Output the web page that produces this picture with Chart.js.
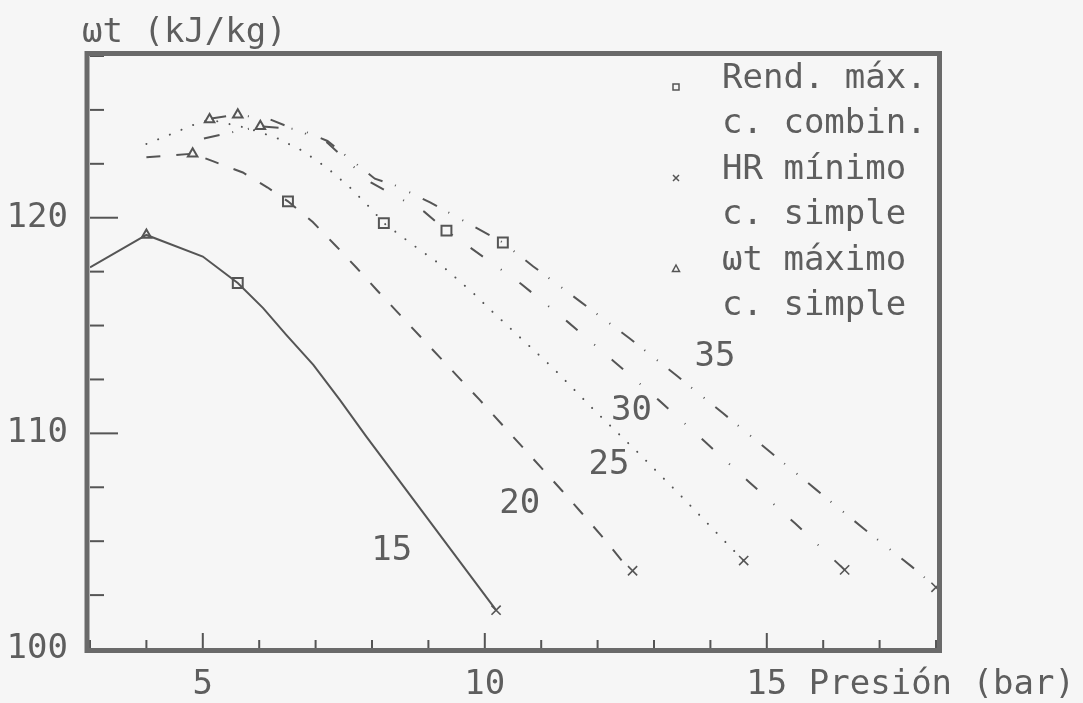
<!DOCTYPE html>
<html><head><meta charset="utf-8">
<script src="https://cdn.jsdelivr.net/npm/chart.js@4.4.1/dist/chart.umd.min.js"></script>
<style>html,body{margin:0;padding:0;background:#f6f6f6;}#wrap{width:1083px;height:703px;}</style>
</head><body><div id="wrap"><canvas id="c" width="1083" height="703"></canvas></div>
<script>
// ---- data (pressure in bar, specific work in kJ/kg) ----
const p15 = [3.0, 4.0, 5.0, 5.62, 6.07, 6.48, 6.96, 7.43, 7.9, 10.2];
const wt15 = [117.7, 119.2, 118.2, 116.97, 115.81, 114.57, 113.18, 111.55, 109.85, 101.8];

const p20 = [4.0, 4.82, 5.2, 5.71, 6.15, 6.51, 6.95, 7.34, 7.73, 8.08, 8.43, 9.91, 11.37, 11.71, 12.07, 12.43, 12.62];
const wt20 = [122.8, 122.97, 122.6, 122.1, 121.4, 120.76, 119.8, 118.75, 117.67, 116.66, 115.68, 111.55, 107.34, 106.33, 105.25, 104.1, 103.63];

const p25 = [4.0, 4.52, 4.76, 5.12, 5.8, 6.31, 6.77, 7.21, 7.61, 7.99, 8.21, 8.8, 9.23, 9.84, 10.03, 10.62, 11.21, 11.97, 12.74, 13.49, 14.23, 14.59];
const wt25 = [123.42, 123.96, 124.24, 124.55, 124.15, 123.7, 123.1, 122.3, 121.4, 120.4, 119.75, 118.6, 117.8, 116.4, 115.9, 114.46, 113.03, 111.0, 109.05, 107.07, 105.06, 104.1];

const p30 = [5.15, 5.62, 6.2, 7.2, 7.98, 8.93, 9.32, 10.64, 11.47, 12.28, 13.09, 13.9, 14.68, 15.5, 16.38];
const wt30 = [124.6, 124.78, 124.55, 123.5, 121.64, 120.27, 119.4, 116.94, 115.17, 113.36, 111.53, 109.62, 107.76, 105.83, 103.67];

const p35 = [5.02, 5.53, 6.02, 6.72, 7.21, 8.05, 8.42, 9.03, 10.32, 10.86, 11.7, 12.57, 13.4, 14.22, 15.05, 15.88, 16.71, 17.57, 18.0];
const wt35 = [123.67, 123.97, 124.24, 124.1, 123.56, 121.81, 121.49, 120.71, 118.85, 117.74, 116.1, 114.4, 112.68, 110.94, 109.16, 107.38, 105.6, 103.82, 102.86];

// markers
const rendMaxP = [5.62, 6.51, 8.21, 9.32, 10.32];
const rendMaxWt = [116.97, 120.76, 119.75, 119.4, 118.85];
const hrMinP = [10.2, 12.62, 14.59, 16.38, 18.0];
const hrMinWt = [101.8, 103.63, 104.1, 103.67, 102.86];
const wtMaxP = [4.0, 4.82, 5.12, 5.62, 6.02];
const wtMaxWt = [119.2, 122.97, 124.55, 124.78, 124.24];

// curve labels
const curveNames = ['15', '20', '25', '30', '35'];
const curveLabelP = [8.35, 10.62, 12.2, 12.6, 14.08];
const curveLabelWt = [104.55, 106.73, 108.54, 111.04, 113.55];

// axes
const xMin = 3, xMax = 18, xStep = 1, xLabeled = [5, 10, 15];
const yMin = 100, yMax = 127.5, yStep = 2.5, yLabeled = [100, 110, 120];
const yTitle = 'ωt (kJ/kg)';
const xTitle = 'Presión (bar)';
const legendLines = [['Rend. máx.', 'c. combin.'], ['HR mínimo', 'c. simple'], ['ωt máximo', 'c. simple']];

// ---- rendering ----
const INK = '#555';
const TXT = '#5e5e5e';
const FONT = '"DejaVu Sans Mono", monospace';
const pts = (xs, ys) => xs.map((v, i) => ({x: v, y: ys[i]}));
const lineDs = (xs, ys, dash, cap) => ({
  data: pts(xs, ys), showLine: true, pointRadius: 0, borderColor: INK,
  borderWidth: 2, borderDash: dash, borderCapStyle: cap || 'butt', tension: 0, fill: false
});
const markDs = (xs, ys, style, r, bw) => ({
  data: pts(xs, ys), showLine: false, pointStyle: style, pointRadius: r,
  pointBorderColor: INK, pointBackgroundColor: 'rgba(0,0,0,0)', pointBorderWidth: bw, clip: false
});

const deco = {
  id: 'deco',
  afterDraw(chart) {
    const {ctx, chartArea: a, scales: {x, y}} = chart;
    ctx.save();
    // inward ticks
    ctx.strokeStyle = INK; ctx.lineWidth = 2;
    y.ticks.forEach(t => {
      const py = y.getPixelForValue(t.value);
      const len = (t.value % 10 === 0) ? 28 : 14;
      ctx.beginPath(); ctx.moveTo(a.left, py); ctx.lineTo(a.left + len, py); ctx.stroke();
    });
    x.ticks.forEach(t => {
      const px = x.getPixelForValue(t.value);
      const len = xLabeled.includes(t.value) ? 16 : 9;
      ctx.beginPath(); ctx.moveTo(px, a.bottom); ctx.lineTo(px, a.bottom - len); ctx.stroke();
    });
    // frame
    ctx.strokeStyle = '#6a6a6a'; ctx.lineWidth = 5;
    ctx.strokeRect(a.left - 3, a.top - 2.5, a.right - a.left + 6.5, a.bottom - a.top + 4);
    // texts
    ctx.fillStyle = TXT;
    ctx.font = '34px ' + FONT;
    ctx.textBaseline = 'middle';
    ctx.textAlign = 'center';
    curveNames.forEach((n, i) => {
      ctx.fillText(n, x.getPixelForValue(curveLabelP[i]), y.getPixelForValue(curveLabelWt[i]));
    });
    ctx.textAlign = 'left';
    ctx.fillText(yTitle, 82, 33);
    ctx.fillText(xTitle, x.getPixelForValue(15) + 42, 685);
    // legend
    const lx = 722, sx = 676;
    let ly = 79;
    legendLines.forEach((pair, k) => {
      ctx.fillText(pair[0], lx, ly);
      ctx.fillText(pair[1], lx, ly + 45);
      const sy = ly + 8;
      ctx.lineWidth = 1.5; ctx.strokeStyle = INK;
      ctx.beginPath();
      if (k === 0) { ctx.rect(sx - 3, sy - 3, 6, 6); }
      else if (k === 1) { ctx.moveTo(sx - 3, sy - 3); ctx.lineTo(sx + 3, sy + 3); ctx.moveTo(sx + 3, sy - 3); ctx.lineTo(sx - 3, sy + 3); }
      else { ctx.moveTo(sx, sy - 4); ctx.lineTo(sx + 3.5, sy + 2.5); ctx.lineTo(sx - 3.5, sy + 2.5); ctx.closePath(); }
      ctx.stroke();
      ly += 91;
    });
    ctx.restore();
  }
};

new Chart(document.getElementById('c'), {
  type: 'scatter',
  data: {
    datasets: [
      lineDs(p15, wt15, []),
      lineDs(p20, wt20, [14, 16]),
      lineDs(p25, wt25, [0.1, 12.5], 'round'),
      lineDs(p30, wt30, [15, 22, 1, 22]),
      lineDs(p35, wt35, [16, 13, 1, 15, 1, 14]),
      markDs(rendMaxP, rendMaxWt, 'rect', 7, 2),
      markDs(hrMinP, hrMinWt, 'crossRot', 6.5, 1.6),
      markDs(wtMaxP, wtMaxWt, 'triangle', 5.5, 2)
    ]
  },
  plugins: [deco],
  options: {
    responsive: false, devicePixelRatio: 1, animation: false,
    layout: {padding: {top: 56, right: 147, left: 0, bottom: 0}},
    plugins: {legend: {display: false}, tooltip: {enabled: false}},
    scales: {
      x: {
        type: 'linear', min: xMin, max: xMax,
        grid: {display: false, drawTicks: false}, border: {display: false},
        afterFit: s => { s.height = 54; },
        ticks: {stepSize: xStep, autoSkip: false, maxRotation: 0, padding: 16, color: TXT,
          font: {family: FONT, size: 34},
          callback: v => xLabeled.includes(v) ? String(v) : ''}
      },
      y: {
        min: yMin, max: yMax,
        grid: {display: false, drawTicks: false}, border: {display: false},
        afterFit: s => { s.width = 90; },
        ticks: {stepSize: yStep, autoSkip: false, padding: 22, color: TXT,
          font: {family: FONT, size: 34},
          callback: v => yLabeled.includes(v) ? String(v) : ''}
      }
    }
  }
});
</script></body></html>
